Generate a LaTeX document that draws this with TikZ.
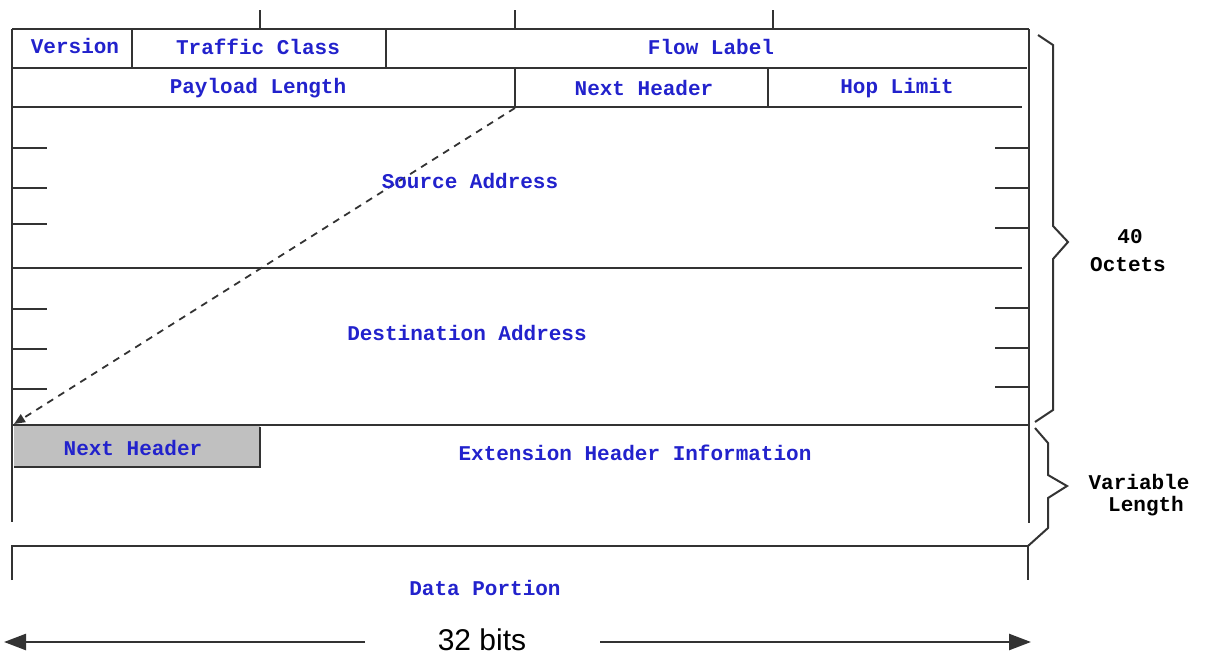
\documentclass[tikz,border=0pt]{standalone}
\usepackage{fontspec}
\usetikzlibrary{arrows.meta}
\newfontfamily\monof{Liberation Mono}
\newfontfamily\sansf{Liberation Sans}
\definecolor{lineclr}{HTML}{333333}
\definecolor{txtblue}{HTML}{2222CC}
\definecolor{boxgray}{HTML}{C0C0C0}
\begin{document}
\begin{tikzpicture}[x=1pt,y=-1pt,
  frame/.style={draw=lineclr,line width=2pt},
  fld/.style={text=txtblue,font=\monof\bfseries\fontsize{21}{24}\selectfont,inner sep=0pt,anchor=center},
  side/.style={text=black,font=\monof\bfseries\fontsize{21}{24}\selectfont,inner sep=0pt,anchor=center},
  brace/.style={draw=lineclr,line width=2pt,line join=miter}]
\useasboundingbox (0,0) rectangle (1209,656);
% top ticks
\draw[frame] (260,10) -- (260,29);
\draw[frame] (515,10) -- (515,29);
\draw[frame] (773,10) -- (773,29);
% outer verticals
\draw[frame] (12,29) -- (12,522);
\draw[frame] (1029,29) -- (1029,523);
% row lines
\draw[frame] (12,29) -- (1029,29);
\draw[frame] (12,68) -- (1027,68);
\draw[frame] (12,107) -- (1022,107);
\draw[frame] (12,268) -- (1022,268);
\draw[frame] (12,425) -- (1029,425);
% row separators
\draw[frame] (132,29) -- (132,68);
\draw[frame] (386,29) -- (386,68);
\draw[frame] (515,68) -- (515,107);
\draw[frame] (768,68) -- (768,107);
% left ticks
\foreach \yy in {148,188,224,309,349,389} \draw[frame] (12,\yy) -- (47,\yy);
% right ticks
\foreach \yy in {148,188,228,308,348,387} \draw[frame] (995,\yy) -- (1029,\yy);
% gray next header box
\fill[boxgray] (14,426) rectangle (260,467);
\draw[frame] (14,467) -- (260,467) -- (260,427);
% data portion
\draw[frame] (12,580) -- (12,546) -- (1028,546) -- (1028,580);
% dashed arrow
\coordinate (nhsrc) at (515,108);
\coordinate (nhdst) at (14,424);
\draw[draw=lineclr,line width=1.8pt,dashed,dash pattern=on 7pt off 6pt,-{Triangle[length=11pt,width=9pt]}] (nhsrc) -- (nhdst);
% texts
\node[fld] (ver) at (75,46) {Version};
\node[fld] (tc) at (258,47) {Traffic Class};
\node[fld] (fl) at (711,47) {Flow Label};
\node[fld] (pl) at (258,88) {Payload Length};
\node[fld] (nh) at (644,88) {Next Header};
\node[fld] (hl) at (897,88) {Hop Limit};
\node[fld] (sa) at (470,181) {Source Address};
\node[fld] (da) at (467,333) {Destination Address};
\node[fld] (nh2) at (133,448) {Next Header};
\node[fld] (ehi) at (635,453) {Extension Header Information};
\node[fld] (dp) at (485,588) {Data Portion};
% braces
\draw[brace] (1038,35) -- (1053,45) -- (1053,226) -- (1068,242) -- (1053,259) -- (1053,410) -- (1035,422);
\draw[brace] (1035,428) -- (1048,443) -- (1048,475) -- (1067,486) -- (1048,498) -- (1048,528) -- (1028,546);
\node[side] (o40) at (1130,237) {40};
\node[side] (oct) at (1128,265) {Octets};
\node[side] (var) at (1139,482) {Variable};
\node[side] (len) at (1146,506) {Length};
% 32 bits arrow
\node[text=black,font=\sansf\fontsize{30}{34}\selectfont,inner sep=0pt] (bits) at (482,640) {32 bits};
\coordinate (la) at (4,642);
\coordinate (lb) at (365,642);
\coordinate (ra) at (600,642);
\coordinate (rb) at (1031,642);
\draw[draw=lineclr,line width=2.5pt,-{Triangle[length=22pt,width=16pt]}] (lb) -- (la);
\draw[draw=lineclr,line width=2.5pt,-{Triangle[length=22pt,width=16pt]}] (ra) -- (rb);
\end{tikzpicture}
\end{document}
